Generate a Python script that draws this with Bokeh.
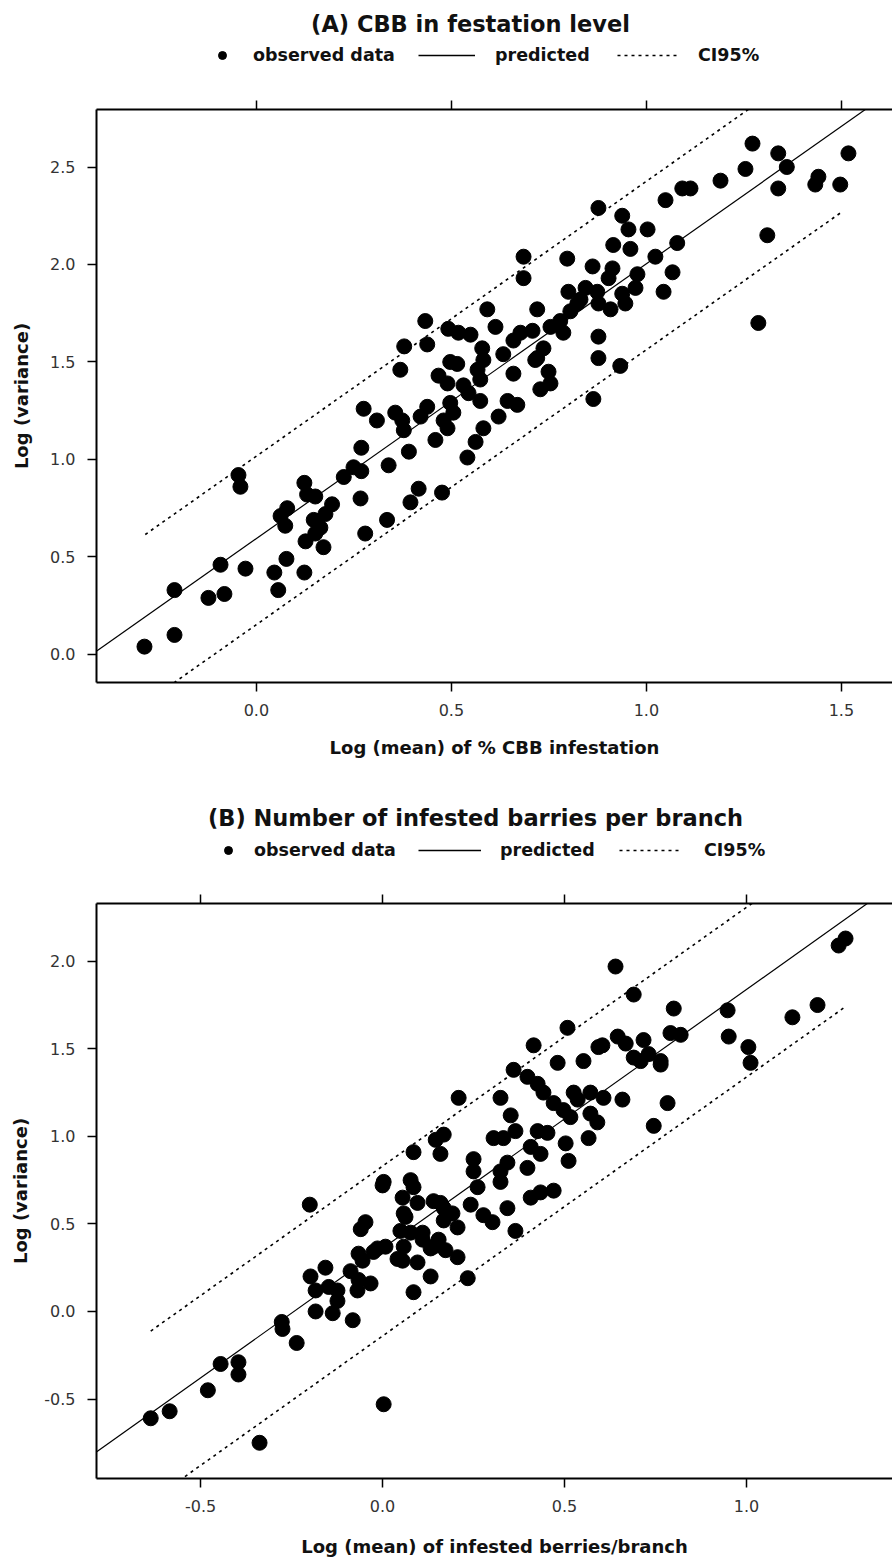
from bokeh.plotting import figure
from bokeh.models import (Range1d, FixedTicker, NumeralTickFormatter, LinearAxis,
                          Label, Legend, LegendItem)
from bokeh.layouts import column
from bokeh.embed import file_html
from bokeh.resources import INLINE

FONT = "DejaVu Sans"
W = 892
LEFT = 96
NAN = float("nan")

# ---------------- Panel A data ----------------
A_title = "(A) CBB in festation level"
A_xlabel = "Log (mean) of % CBB infestation"
A_ylabel = "Log (variance)"
A_xticks = [0.0, 0.5, 1.0, 1.5]
A_yticks = [0.0, 0.5, 1.0, 1.5, 2.0, 2.5]

A_x = [-0.287, -0.21, -0.21, -0.123, -0.082, -0.092, -0.028, -0.046, -0.041, 0.046,
       0.056, 0.077, 0.123, 0.062, 0.079, 0.074, 0.123, 0.13, 0.151, 0.194,
       0.147, 0.164, 0.126, 0.151, 0.172, 0.177, 0.224, 0.249, 0.269, 0.267,
       0.269, 0.279, 0.335, 0.339, 0.395, 0.416, 0.476, 0.275, 0.309, 0.356,
       0.378, 0.391, 0.438, 0.459,
       0.685, 0.685, 0.797, 0.80, 0.592, 0.613, 0.72, 0.433, 0.438, 0.379,
       0.369, 0.492, 0.518, 0.549, 0.579, 0.497, 0.515, 0.567, 0.582, 0.467,
       0.49, 0.531, 0.574, 0.574, 0.544, 0.497, 0.48, 0.505, 0.421, 0.49,
       0.374, 0.633, 0.659, 0.677, 0.708, 0.659, 0.715, 0.736, 0.754, 0.779,
       0.787, 0.805, 0.823, 0.749, 0.754, 0.728, 0.644, 0.669, 0.621, 0.582,
       0.562, 0.541,
       1.272, 1.338, 1.36, 1.518, 1.254, 1.338, 1.441, 1.433, 1.497, 1.19,
       1.092, 1.113, 1.049, 0.877, 0.938, 0.954, 1.003, 0.915, 0.959, 1.079,
       1.023, 1.31, 1.287, 0.862, 0.913, 0.977, 1.067, 1.044, 0.972, 0.844,
       0.938, 0.874, 0.903, 0.946, 0.908, 0.877, 0.831, 0.877, 0.877, 0.933,
       0.864, 0.72]
A_y = [0.04, 0.10, 0.33, 0.29, 0.31, 0.46, 0.44, 0.92, 0.86, 0.42,
       0.33, 0.49, 0.42, 0.71, 0.75, 0.66, 0.88, 0.82, 0.81, 0.77,
       0.69, 0.65, 0.58, 0.62, 0.55, 0.72, 0.91, 0.96, 0.94, 0.80,
       1.06, 0.62, 0.69, 0.97, 0.78, 0.85, 0.83, 1.26, 1.20, 1.24,
       1.15, 1.04, 1.27, 1.10,
       2.04, 1.93, 2.03, 1.86, 1.77, 1.68, 1.77, 1.71, 1.59, 1.58,
       1.46, 1.67, 1.65, 1.64, 1.57, 1.50, 1.49, 1.46, 1.51, 1.43,
       1.39, 1.38, 1.41, 1.30, 1.34, 1.29, 1.20, 1.24, 1.22, 1.16,
       1.20, 1.54, 1.61, 1.65, 1.66, 1.44, 1.51, 1.57, 1.68, 1.71,
       1.65, 1.76, 1.80, 1.45, 1.39, 1.36, 1.30, 1.28, 1.22, 1.16,
       1.09, 1.01,
       2.62, 2.57, 2.50, 2.57, 2.49, 2.39, 2.45, 2.41, 2.41, 2.43,
       2.39, 2.39, 2.33, 2.29, 2.25, 2.18, 2.18, 2.10, 2.08, 2.11,
       2.04, 2.15, 1.70, 1.99, 1.98, 1.95, 1.96, 1.86, 1.88, 1.88,
       1.85, 1.86, 1.93, 1.80, 1.77, 1.80, 1.82, 1.63, 1.52, 1.48,
       1.31, 1.52]

# fitted line and 95% CI (end points)
A_pred_x = [-0.45, 1.65]
A_pred_y = [-0.04, 2.92]
A_upper_x = [-0.285, 1.52]
A_upper_y = [0.615, 3.16]
A_lower_x = [-0.285, 1.50]
A_lower_y = [-0.249, 2.268]

# ---------------- Panel B data ----------------
B_title = "(B) Number of infested barries per branch"
B_xlabel = "Log (mean) of infested berries/branch"
B_ylabel = "Log (variance)"
B_xticks = [-0.5, 0.0, 0.5, 1.0]
B_yticks = [-0.5, 0.0, 0.5, 1.0, 1.5, 2.0]

B_x = [-0.637, -0.585, -0.48, -0.445, -0.396, -0.396, -0.338, -0.277, -0.275, -0.236,
       -0.20, 0.003, -0.198, -0.157, -0.184, -0.184, -0.137, -0.124, -0.148, -0.082,
       -0.069, -0.088, -0.055, -0.033, -0.025, 0.008, -0.06, -0.047, 0.0, 0.055,
       0.085, 0.063, 0.049, 0.055, 0.096, 0.085, 0.132, 0.11, 0.14, 0.168,
       0.14, 0.173, 0.508, 0.415, 0.481, 0.552, 0.593, 0.36, 0.209, 0.324,
       0.398, 0.426, 0.442, 0.47, 0.497, 0.536, 0.571, 0.571, 0.516, 0.352,
       0.365, 0.305, 0.332, 0.426, 0.453, 0.566, 0.503, 0.511, 0.146, 0.168,
       0.159, 0.085, 0.25, 0.25, 0.261, 0.324, 0.343, 0.407, 0.434, 0.324,
       0.398, 0.242, 0.277, 0.302, 0.343, 0.407, 0.434, 0.47, 0.365, 0.234,
       0.003, 0.077, 0.096, 0.159, 0.192, 0.206, 0.168, 0.058, 0.077, 0.11,
       0.058, -0.014, 0.041, 0.132, 0.154, 0.206, -0.066, -0.066, -0.124, 0.64,
       0.69, 1.272, 1.253, 0.80, 0.948, 1.126, 1.195, 0.791, 0.819, 0.951,
       1.005, 1.011, 0.604, 0.646, 0.668, 0.69, 0.717, 0.731, 0.764, 0.764,
       0.709, 0.659, 0.783, 0.745, 0.59, 0.525, 0.607]
B_y = [-0.61, -0.57, -0.45, -0.30, -0.29, -0.36, -0.75, -0.06, -0.10, -0.18,
       0.61, -0.53, 0.20, 0.25, 0.12, 0.0, -0.01, 0.06, 0.14, -0.05,
       0.12, 0.23, 0.29, 0.16, 0.34, 0.37, 0.47, 0.51, 0.72, 0.65,
       0.71, 0.54, 0.46, 0.29, 0.28, 0.11, 0.20, 0.45, 0.63, 0.59,
       0.37, 0.35, 1.62, 1.52, 1.42, 1.43, 1.51, 1.38, 1.22, 1.22,
       1.34, 1.30, 1.25, 1.19, 1.15, 1.21, 1.25, 1.13, 1.11, 1.12,
       1.03, 0.99, 0.99, 1.03, 1.02, 0.99, 0.96, 0.86, 0.98, 1.01,
       0.90, 0.91, 0.87, 0.80, 0.71, 0.80, 0.85, 0.94, 0.90, 0.74,
       0.82, 0.61, 0.55, 0.51, 0.59, 0.65, 0.68, 0.69, 0.46, 0.19,
       0.74, 0.75, 0.62, 0.62, 0.56, 0.48, 0.52, 0.56, 0.45, 0.41,
       0.37, 0.36, 0.30, 0.36, 0.41, 0.31, 0.33, 0.18, 0.12, 1.97,
       1.81, 2.13, 2.09, 1.73, 1.72, 1.68, 1.75, 1.59, 1.58, 1.57,
       1.51, 1.42, 1.52, 1.57, 1.53, 1.45, 1.55, 1.47, 1.43, 1.41,
       1.43, 1.21, 1.19, 1.06, 1.08, 1.25, 1.22]

B_pred_x = [-0.8, 1.45]
B_pred_y = [-0.823, 2.505]
B_upper_x = [-0.637, 1.28]
B_upper_y = [-0.112, 2.723]
B_lower_x = [-0.637, 1.272]
B_lower_y = [-1.082, 1.741]

legend_labels = ["observed data", "predicted", "CI95%"]


def style_axis(ax, ticks, label, label_standoff):
    ax.ticker = FixedTicker(ticks=ticks)
    ax.formatter = NumeralTickFormatter(format="0.0")
    ax.axis_label = label
    ax.axis_label_text_font = FONT
    ax.axis_label_text_font_size = "18px"
    ax.axis_label_text_font_style = "bold"
    ax.axis_label_text_color = "#111111"
    ax.axis_label_standoff = label_standoff
    ax.major_label_text_font = FONT
    ax.major_label_text_font_size = "16px"
    ax.major_label_text_color = "#333333"
    ax.major_label_standoff = 12
    ax.axis_line_width = 2
    ax.axis_line_color = "black"
    ax.major_tick_line_width = 1.5
    ax.major_tick_out = 9
    ax.major_tick_in = 0
    ax.minor_tick_line_color = None


def make_header(height, title, title_xy, legend_pos):
    """Title and key above a panel; x in page pixels (frame is aligned to LEFT)."""
    h = figure(width=W, height=height, x_range=Range1d(LEFT, W), y_range=Range1d(0, height),
               output_backend="svg", toolbar_location=None,
               x_axis_location=None, y_axis_location=None,
               min_border_left=LEFT, min_border_right=0, min_border_top=0,
               min_border_bottom=0, outline_line_color=None)
    h.grid.visible = False
    h.add_layout(Label(x=title_xy[0], y=title_xy[1], text=title, text_align="center",
                       text_baseline="middle", text_font=FONT,
                       text_font_size="22.5px", text_font_style="bold",
                       text_color="#111111"))
    k_pts = h.scatter([NAN], [NAN], size=15, marker="circle", fill_color="black",
                      line_color="black")
    k_pred = h.line([NAN, NAN], [NAN, NAN], line_color="black", line_width=1.6)
    k_ci = h.line([NAN, NAN], [NAN, NAN], line_color="black", line_width=1.6,
                  line_dash="3 4")
    for rend, lab, (vx, vy, gw, so) in zip([k_pts, k_pred, k_ci], legend_labels, legend_pos):
        leg = Legend(items=[LegendItem(label=lab, renderers=[rend])],
                     location=(vx - LEFT, vy), orientation="horizontal",
                     glyph_width=gw, glyph_height=20, label_height=20,
                     label_standoff=so, padding=0, margin=0, spacing=0,
                     border_line_color=None, background_fill_alpha=0,
                     label_text_font=FONT, label_text_font_size="17.5px",
                     label_text_font_style="bold", label_text_color="#111111")
        h.add_layout(leg)
    return h


def make_panel(xlabel, ylabel, xticks, yticks, xs, ys, pred, upper, lower,
               xr, yr, height, borders, xl_standoff, yl_standoff):
    bt, bb = borders
    p = figure(width=W, height=height, x_range=Range1d(*xr), y_range=Range1d(*yr),
               output_backend="svg", toolbar_location=None,
               min_border_left=LEFT, min_border_right=0, min_border_top=bt,
               min_border_bottom=bb, outline_line_color=None)
    p.grid.visible = False
    style_axis(p.xaxis[0], xticks, xlabel, xl_standoff)
    style_axis(p.yaxis[0], yticks, ylabel, yl_standoff)

    top = LinearAxis()
    style_axis(top, xticks, "", 0)
    top.major_label_text_color = None
    top.major_label_standoff = 0
    p.add_layout(top, "above")

    p.scatter(xs, ys, size=15, marker="circle", fill_color="black", line_color="black")
    p.line(pred[0], pred[1], line_color="black", line_width=1.2)
    p.line(upper[0], upper[1], line_color="black", line_width=1.6, line_dash="3 4")
    p.line(lower[0], lower[1], line_color="black", line_width=1.6, line_dash="3 4")
    return p


hA = make_header(92, A_title, (470, 69),
                 [(212, 27, 20, 21), (418, 27, 57, 20), (617, 27, 60, 21)])
pA = make_panel(A_xlabel, A_ylabel, A_xticks, A_yticks, A_x, A_y,
                (A_pred_x, A_pred_y), (A_upper_x, A_upper_y), (A_lower_x, A_lower_y),
                (-0.41, 1.631), (-0.144, 2.795), 684, (17, 94), 18, 15)

hB = make_header(104, B_title, (475, 63),
                 [(218, 20, 20, 16), (418, 20, 63, 19), (619, 20, 61, 24)])
pB = make_panel(B_xlabel, B_ylabel, B_xticks, B_yticks, B_x, B_y,
                (B_pred_x, B_pred_y), (B_upper_x, B_upper_y), (B_lower_x, B_lower_y),
                (-0.786, 1.401), (-0.954, 2.33), 680, (23, 82), 21, 10)

layout = column(hA, pA, hB, pB)
open("out.html", "w").write(file_html(layout, INLINE))
